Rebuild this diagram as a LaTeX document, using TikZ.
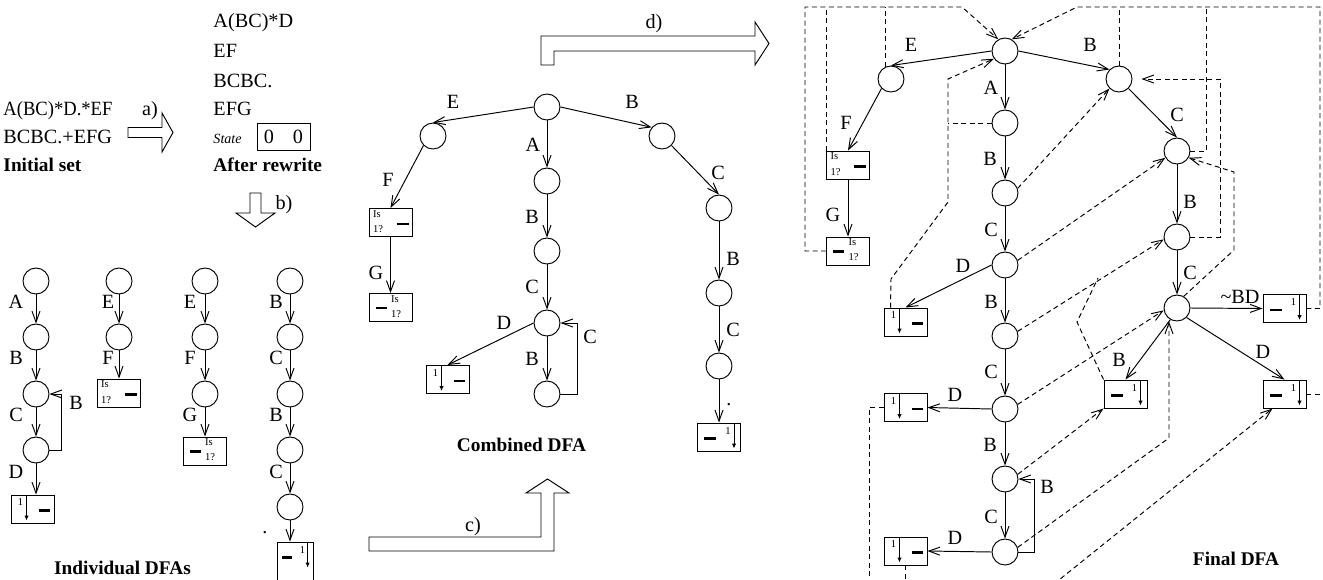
\documentclass[tikz,border=0pt]{standalone}
\usepackage{fontspec}
\setmainfont{Liberation Serif}
\usetikzlibrary{arrows.meta}

\begin{document}
\begin{tikzpicture}[
    x=0.02cm, y=-0.02cm, line width=0.55pt,
    st/.style={circle, draw, minimum size=0.52cm, inner sep=0pt},
    acc/.style={rectangle, draw, minimum width=0.86cm, minimum height=0.56cm, inner sep=0pt},
    tr/.style={-{Straight Barb[length=2.2mm,width=1.6mm]}},
    fl/.style={dash pattern=on 1mm off 0.7mm},
    fail/.style={fl, tr},
    lbl/.style={font=\fontsize{11.5}{13}\selectfont, inner sep=0pt},
    txt/.style={font=\fontsize{11.5}{13}\selectfont, anchor=base west, inner sep=0pt},
    ttl/.style={font=\fontsize{11}{13}\selectfont\bfseries, anchor=base, inner sep=0pt},
    sm/.style={font=\fontsize{6}{6}\selectfont, inner sep=0pt},
    minus/.style={line width=1.2pt},
    down/.style={-{Latex[length=1mm,width=0.9mm]}},
    oneL/.pic={\node[sm] at (10,7.5) {1}; \draw[down] (16,1) -- (16,26); \draw[minus] (28,16) -- (39,16);},
    oneR/.pic={\draw[minus] (7,16) -- (19,16); \node[sm] at (31,8) {1}; \draw[down] (37,1) -- (37,26);},
    isL/.pic={\node[sm, anchor=west] at (4,6) {Is}; \node[sm, anchor=west] at (4,21.5) {1?}; \draw[minus] (28,16) -- (40,16);},
    isR/.pic={\draw[minus] (7,15) -- (18,15); \node[sm, anchor=west] at (22,6) {Is}; \node[sm, anchor=west] at (22,21) {1?};}
]
\useasboundingbox (0,0) rectangle (1323,579);

% initial set and rewrite
\node[txt] (s1) at (3,115) {\scalebox{0.92}[1]{A(BC)*D.*EF}};
\node[txt] (s2) at (3,143) {BCBC.+EFG};
\node[ttl, anchor=base west] (tInit) at (3,171.5) {Initial set};
\draw (128,127.5) -- (162,127.5) -- (162,113) -- (173,132.5) -- (162,152) -- (162,137.5) -- (128,137.5) -- cycle;
\node[lbl] (la) at (150,111) {a)};
\node[txt] (r1) at (213,27) {A(BC)*D};
\node[txt] (r2) at (213,57) {EF};
\node[txt] (r3) at (213,87) {BCBC.};
\node[txt] (r4) at (213,115) {EFG};
\node[font=\fontsize{8}{9}\selectfont\itshape, anchor=base west, inner sep=0pt] (r5) at (213,143) {State};
\node[draw, minimum width=1.06cm, minimum height=0.54cm, inner sep=0pt, font=\fontsize{11.5}{13}\selectfont] (stbox) at (283.5,136.5) {0\hspace{0.38cm}0};
\node[ttl, anchor=base west] (tRew) at (213,171.5) {After rewrite};
\draw (250,193) -- (261,193) -- (261,213) -- (275,213) -- (255.5,227) -- (236,213) -- (250,213) -- cycle;
\node[lbl] (lb) at (284,205) {b)};

% individual DFAs
\node[st] (a0) at (36,281) {};
\node[st] (a1) at (36,337) {};
\node[st] (a2) at (36,394) {};
\node[st] (a3) at (36,450) {};
\node[acc] (a4) at (32.5,509) {};
\pic at (a4.north west) {oneL};
\draw[tr] (a0) -- (a1);
\draw[tr] (a1) -- (a2);
\draw[tr] (a2) -- (a3);
\draw[tr] (a3) -- (a3 |- a4.north);
\draw[tr] (a3.east) -- (61,450) -- (61,394) -- (a2.east);
\node[lbl] (la1) at (16,302) {A};
\node[lbl] (la2) at (16,358) {B};
\node[lbl] (la3) at (16,415) {C};
\node[lbl] (la4) at (16,472) {D};
\node[lbl] (la5) at (76,403) {B};

\node[st] (b0) at (119,281) {};
\node[st] (b1) at (119,337) {};
\node[acc] (b2) at (118.5,393) {};
\pic at (b2.north west) {isL};
\draw[tr] (b0) -- (b1);
\draw[tr] (b1) -- (b1 |- b2.north);
\node[lbl] (lb1) at (108,302) {E};
\node[lbl] (lb2) at (108,358) {F};

\node[st] (c0) at (205,281) {};
\node[st] (c1) at (205,337) {};
\node[st] (c2) at (205,394) {};
\node[acc] (c3) at (204.5,451) {};
\pic at (c3.north west) {isR};
\draw[tr] (c0) -- (c1);
\draw[tr] (c1) -- (c2);
\draw[tr] (c2) -- (c2 |- c3.north);
\node[lbl] (lc1) at (190,302) {E};
\node[lbl] (lc2) at (190,358) {F};
\node[lbl] (lc3) at (190,415) {G};

\node[st] (d0) at (290,281) {};
\node[st] (d1) at (290,337) {};
\node[st] (d2) at (290,394) {};
\node[st] (d3) at (290,450) {};
\node[st] (d4) at (290,507) {};
\node[acc, minimum width=0.72cm, minimum height=0.8cm] (d5) at (295,562) {};
\pic[xscale=0.84] at (d5.north west) {oneR};
\draw[tr] (d0) -- (d1);
\draw[tr] (d1) -- (d2);
\draw[tr] (d2) -- (d3);
\draw[tr] (d3) -- (d4);
\draw[tr] (d4) -- (d4 |- d5.north);
\node[lbl] (ld1) at (276,302) {B};
\node[lbl] (ld2) at (276,358) {C};
\node[lbl] (ld3) at (276,415) {B};
\node[lbl] (ld4) at (276,472) {C};
\node[lbl] (ld5) at (265,533) {.};
\node[ttl] (tInd) at (122.5,574) {Individual DFAs};

% c) and d)
\draw (369,537) -- (541,537) -- (541,493) -- (526,493) -- (547.5,479) -- (569,493) -- (554,493) -- (554,551) -- (369,551) -- cycle;
\node[lbl] (lc) at (473,527) {c)};
\draw (541,65) -- (541,36) -- (755,36) -- (755,22) -- (769,43.5) -- (755,65) -- (755,51) -- (554,51) -- (554,65) -- cycle;
\node[lbl] (ld) at (654,24) {d)};

% combined DFA
\node[st] (m0) at (547,107) {};
\node[st] (mE) at (433,136) {};
\node[st] (mA) at (547,181) {};
\node[st] (mB) at (662,136) {};
\node[st] (mAB) at (547,251) {};
\node[st] (mABC) at (547,323) {};
\node[st] (mABCB) at (547,394) {};
\node[st] (mBC) at (719,208) {};
\node[st] (mBCB) at (719,293) {};
\node[st] (mBCBC) at (719,366) {};
\node[acc] (mEF) at (390.5,222.5) {};
\node[acc] (mEFG) at (390.5,307.5) {};
\node[acc] (mD) at (447.5,379.5) {};
\node[acc] (mDot) at (719,437) {};
\pic at (mEF.north west) {isL};
\pic at (mEFG.north west) {isR};
\pic at (mD.north west) {oneL};
\pic at (mDot.north west) {oneR};
\draw[tr] (m0.west) -- (mE.north);
\draw[tr] (m0) -- (mA);
\draw[tr] (m0.east) -- (mB.140);
\draw[tr] (mE.south west) -- (mEF.north);
\draw[tr] (mEF) -- (mEFG);
\draw[tr] (mA) -- (mAB);
\draw[tr] (mAB) -- (mABC);
\draw[tr] (mABC) -- (mABCB);
\draw[tr] (mABCB.east) -- (577,394) -- (577,323) -- (mABC.east);
\draw[tr] (mABC.west) -- (mD.north);
\draw[tr] (mB.south east) -- (mBC.north);
\draw[tr] (mBC) -- (mBCB);
\draw[tr] (mBCB) -- (mBCBC);
\draw[tr] (mBCBC) -- (mDot);
\node[lbl] (lm1) at (453,102) {E};
\node[lbl] (lm2) at (533,145) {A};
\node[lbl] (lm3) at (632,102) {B};
\node[lbl] (lm4) at (388,180) {F};
\node[lbl] (lm5) at (532,217) {B};
\node[lbl] (lm6) at (718,173) {C};
\node[lbl] (lm7) at (376,273) {G};
\node[lbl] (lm8) at (532,287) {C};
\node[lbl] (lm9) at (733,259) {B};
\node[lbl] (lm10) at (504,323) {D};
\node[lbl] (lm11) at (532,359) {B};
\node[lbl] (lm12) at (590,337) {C};
\node[lbl] (lm13) at (733,330) {C};
\node[lbl] (lm14) at (729,405) {.};
\node[ttl] (tComb) at (521.5,451.5) {Combined DFA};

% final DFA
\coordinate (ftop) at (0,7);
\node[st] (f0) at (1005,51) {};
\node[st] (fE) at (891,79) {};
\node[st] (fA) at (1005,123) {};
\node[st] (fB) at (1119,79) {};
\node[st] (fAB) at (1005,193) {};
\node[st] (fABC) at (1005,265) {};
\node[st] (fABCB) at (1005,336) {};
\node[st] (fABCBC) at (1005,409) {};
\node[st] (fABCBCB) at (1005,479) {};
\node[st] (fLast) at (1005,552) {};
\node[st] (fBC) at (1177,151) {};
\node[st] (fBCB) at (1177,237) {};
\node[st] (fBCBC) at (1177,308) {};
\node[acc] (fEF) at (848,165) {};
\node[acc] (fEFG) at (848,251) {};
\node[acc] (fD1) at (905.5,322) {};
\node[acc] (fD2) at (905.5,407.5) {};
\node[acc] (fD3) at (905.5,551) {};
\node[acc] (fNBD) at (1284.5,308.5) {};
\node[acc] (fBB) at (1125.5,394) {};
\node[acc] (fDD) at (1284.5,394) {};
\pic at (fEF.north west) {isL};
\pic at (fEFG.north west) {isR};
\pic at (fD1.north west) {oneL};
\pic at (fD2.north west) {oneL};
\pic at (fD3.north west) {oneL};
\pic at (fNBD.north west) {oneR};
\pic at (fBB.north west) {oneR};
\pic at (fDD.north west) {oneR};

\draw[tr] (f0.west) -- (fE.north);
\draw[tr] (f0) -- (fA);
\draw[tr] (f0.east) -- (fB.north west);
\draw[tr] (fE.south west) -- (fEF.north);
\draw[tr] (fEF) -- (fEFG);
\draw[tr] (fA) -- (fAB);
\draw[tr] (fAB) -- (fABC);
\draw[tr] (fABC) -- (fABCB);
\draw[tr] (fABCB) -- (fABCBC);
\draw[tr] (fABCBC) -- (fABCBCB);
\draw[tr] (fABCBCB) -- (fLast);
\draw[tr] (fABC.west) -- (fD1.north);
\draw[tr] (fABCBC.west) -- (fD2.east);
\draw[tr] (fLast.west) -- (fD3.east);
\draw[tr] (fLast.east) -- (1034,552) -- (1034,479) -- (fABCBCB.east);
\draw[tr] (fB.south east) -- (fBC.north);
\draw[tr] (fBC) -- (fBCB);
\draw[tr] (fBCB) -- (fBCBC);
\draw[tr] (fBCBC.east) -- (fNBD.west);
\draw[tr] (fBCBC.240) -- (fBB.north);
\draw[tr] (fBCBC.south east) -- (fDD.north);

% failure links
\draw[fail] (fEFG.west) -- (805,251) -- (805,7) -- (962,7) -- (f0.120);
\draw[fl] (fEF.north west) -- (fEF.north west |- ftop);
\draw[fl] (fE.115) -- (fE.115 |- ftop);
\draw[fail] (fNBD.east) -- (1320,308.5) -- (1320,7) -- (1077,7) -- (f0.60);
\draw[fl] (fDD.east) -- (1320,394);
\draw[fl] (fB.north) -- (fB |- ftop);
\draw[fl] (fBC.east) -- (1206,151) -- (1206,7);
\draw[fail] ([xshift=0.14cm]fD1.north west) -- (891,279) -- (948,202) -- (948,79) -- (f0.215);
\draw[fl] (fA.west) -- (948,123);
\draw[fail] (fAB.20) -- (fB.225);
\draw[fail] (fABC.20) -- (fBC.210);
\draw[fail] (fABCB.20) -- (fBCB.190);
\draw[fail] (fABCBC.20) -- (fBCBC.190);
\draw[fail] (fABCBCB.20) -- (fBB.south west);
\coordinate (j1) at (1169,438);
\draw[fail] (fLast.20) -- (j1) -- (j1 |- fBCBC.south);
\draw[fl] (fBB.north west) -- (1077,322) -- (1098,278);
\draw[fail, shorten >=1.8mm] (fBCB.east) -- (1220,237) -- (1220,79) -- (fB.east);
\draw[fail] (fBCBC.60) -- (1234,250) -- (1234,172) -- (fBC.-30);
\coordinate (o1) at (869,600);
\coordinate (o2) at (905.5,600);
\coordinate (o3) at (1034,600);
\draw[fl] (fD2.west) -- (o1 |- fD2.west) -- (o1);
\draw[fl] (fD3.south) -- (o2);
\draw[fail] (o3) -- ([xshift=0.2cm]fDD.south west);

\node[lbl] (lf1) at (911,45) {E};
\node[lbl] (lf2) at (991,88) {A};
\node[lbl] (lf3) at (1090,45) {B};
\node[lbl] (lf4) at (846,123) {F};
\node[lbl] (lf5) at (990,159) {B};
\node[lbl] (lf6) at (1177,115) {C};
\node[lbl] (lf7) at (833,215) {G};
\node[lbl] (lf8) at (991,230) {C};
\node[lbl] (lf9) at (1190,202) {B};
\node[lbl] (lf10) at (963,266) {D};
\node[lbl] (lf11) at (1190,273) {C};
\node[lbl] (lf12) at (1240,297) {\textasciitilde BD};
\node[lbl] (lf13) at (991,302) {B};
\node[lbl] (lf14) at (1119,360) {B};
\node[lbl] (lf15) at (1263,352) {D};
\node[lbl] (lf16) at (991,372) {C};
\node[lbl] (lf17) at (955,395) {D};
\node[lbl] (lf18) at (990,445) {B};
\node[lbl] (lf19) at (1047,487) {B};
\node[lbl] (lf20) at (991,517) {C};
\node[lbl] (lf21) at (955,538) {D};
\node[ttl] (tFin) at (1236,565) {Final DFA};
\end{tikzpicture}
\end{document}
